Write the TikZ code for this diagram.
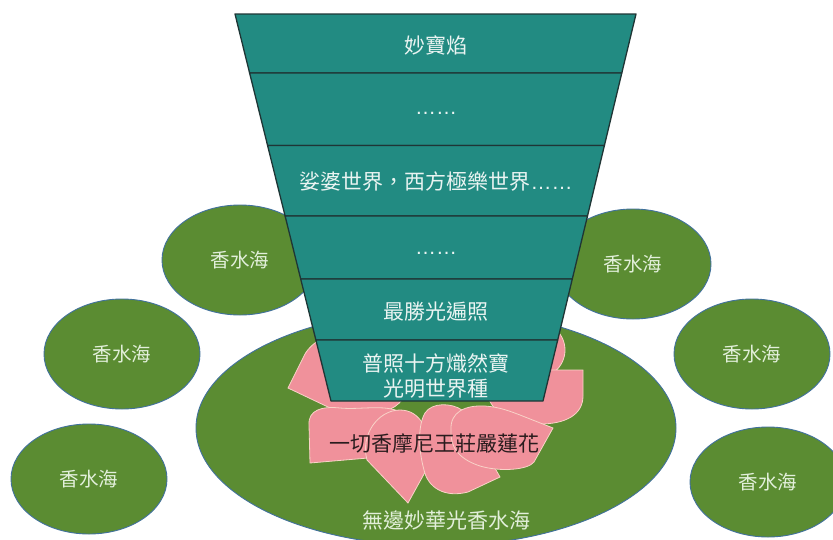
\documentclass[tikz,border=0pt]{standalone}
\usepackage{fontspec}
\setmainfont{Noto Sans CJK TC}
\newfontfamily\latfont{Liberation Sans}
\usetikzlibrary{shapes.geometric}
\definecolor{tealfill}{HTML}{228B82}
\definecolor{tealline}{HTML}{1F3535}
\definecolor{seagreen}{HTML}{5B8C32}
\definecolor{seaedge}{HTML}{41719C}
\definecolor{petalpink}{HTML}{F0919B}
\definecolor{petaledge}{HTML}{F9D3C8}
\definecolor{lighttext}{HTML}{E2EFDA}
\definecolor{whitetext}{HTML}{EAF4F2}
\definecolor{darktext}{HTML}{2A1C1E}
\begin{document}
\begin{tikzpicture}[x=1pt,y=-1pt,
  seaoval/.style={ellipse, draw=seaedge, line width=0.9pt, fill=seagreen,
    minimum width=156pt, minimum height=110pt, inner sep=0pt,
    text=lighttext, font=\fontsize{19.5}{23}\selectfont},
  traprow/.style={fill=tealfill, draw=tealline, line width=1.3pt, line join=round},
  petalshape/.style={fill=petalpink, draw=petaledge, line width=0.8pt},
  rowtext/.style={text=whitetext, font=\fontsize{21}{25}\selectfont, inner sep=0pt, align=center},
  lotustext/.style={text=darktext, font=\fontsize{21}{25}\selectfont, inner sep=0pt},
  seatext/.style={text=lighttext, font=\fontsize{21}{25}\selectfont, inner sep=0pt}
]
\useasboundingbox (0,0) rectangle (833,539);
\clip (0,0) rectangle (833,539);

% small seas
\node[seaoval] (s1) at (240,260) {香水海};
\node[seaoval] (s2) at (122,354) {香水海};
\node[seaoval] (s3) at (89,479) {香水海};
\node[seaoval] (s4) at (633,264) {香水海};
\node[seaoval] (s5) at (752,354) {香水海};
\node[seaoval] (s6) at (768,482) {香水海};

% big sea
\node[ellipse, draw=seaedge, line width=0.9pt, fill=seagreen,
  minimum width=480pt, minimum height=236pt, inner sep=0pt] (bigsea) at (436,428) {};

% lotus petals (back to front)
\draw[petalshape] (288,388) -- (305,354) .. controls (312,342) and (330,330) .. (360,330)
  .. controls (395,330) and (410,360) .. (408,385) .. controls (406,400) and (395,410) .. (380,412)
  .. controls (365,414) and (345,412) .. (328,407) -- cycle;
\draw[petalshape] (532,350) ellipse [x radius=33, y radius=30];
\draw[petalshape] (583,370) -- (583,396) .. controls (583,415) and (565,424) .. (540,424)
  .. controls (510,424) and (490,410) .. (488,395) .. controls (486,380) and (500,370) .. (520,370) -- cycle;
\draw[petalshape] (310,463) -- (309,425) .. controls (308,410) and (322,406) .. (340,408)
  .. controls (360,410) and (385,404) .. (400,412) .. controls (412,420) and (412,445) .. (400,455)
  .. controls (390,460) and (375,459) .. (368,458) -- cycle;
\draw[petalshape] (408,503) -- (367,460) .. controls (360,435) and (378,410) .. (400,410)
  .. controls (420,410) and (432,430) .. (429,465) -- cycle;
\draw[petalshape] (500,477) -- (468,492) .. controls (445,498) and (428,488) .. (424,470)
  .. controls (418,448) and (418,425) .. (425,413) .. controls (432,402) and (452,403) .. (462,410) -- cycle;
\draw[petalshape] (553,428) -- (534,462) .. controls (528,470) and (500,472) .. (480,466)
  .. controls (462,460) and (450,450) .. (451,430) .. controls (450,412) and (465,405) .. (485,406)
  .. controls (500,407) and (512,412) .. (520,415) -- cycle;

% trapezoid rows
\draw[traprow] (235,14) -- (636,14) -- (621.8,73) -- (249.6,73) -- cycle;
\draw[traprow] (249.6,73) -- (621.8,73) -- (604.4,145.5) -- (267.6,145.5) -- cycle;
\draw[traprow] (267.6,145.5) -- (604.4,145.5) -- (587.5,216) -- (285.1,216) -- cycle;
\draw[traprow] (285.1,216) -- (587.5,216) -- (572.3,279) -- (300.7,279) -- cycle;
\draw[traprow] (300.7,279) -- (572.3,279) -- (557.7,340) -- (315.9,340) -- cycle;
\draw[traprow] (315.9,340) -- (557.7,340) -- (543,401) -- (331,401) -- cycle;

% texts
\node[rowtext] (r1) at (436,45) {妙寶焰};
\node[rowtext] (r2) at (436,113) {\latfont ……};
\node[rowtext] (r3) at (436,182) {娑婆世界，西方極樂世界{\latfont ……}};
\node[rowtext] (r4) at (436,253) {\latfont ……};
\node[rowtext] (r5) at (436,312) {最勝光遍照};
\node[rowtext] (r6) at (436,375.5) {普照十方熾然寶\\光明世界種};
\node[lotustext] (lotus) at (434.5,443) {一切香摩尼王莊嚴蓮花};
\node[seatext] (bigsealabel) at (446,520) {無邊妙華光香水海};
\end{tikzpicture}
\end{document}
